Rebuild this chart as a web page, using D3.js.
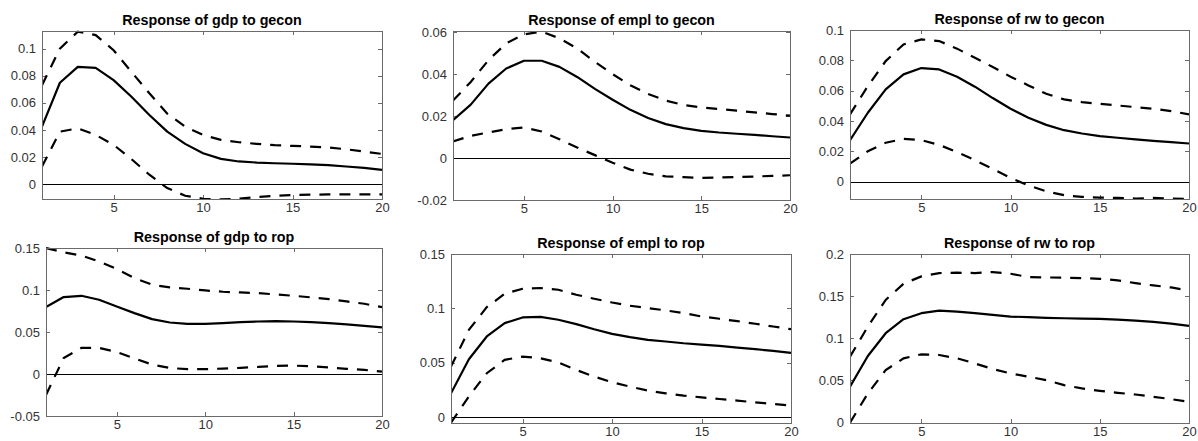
<!DOCTYPE html>
<html>
<head>
<meta charset="utf-8">
<script src="https://cdn.jsdelivr.net/npm/d3@7"></script>
<style>
  html, body { margin: 0; padding: 0; background: #fff; }
  svg { display: block; }
</style>
</head>
<body>
<svg id="chart" width="1198" height="441"></svg>
<script>
// ---------- DATA ----------
const horizons = d3.range(1, 21);
const xTicks = [5, 10, 15, 20];

const titles = [
  "Response of gdp to gecon", "Response of empl to gecon", "Response of rw to gecon",
  "Response of gdp to rop", "Response of empl to rop", "Response of rw to rop"
];

const gdpGeconMid = [0.0424,0.0748,0.0865,0.0858,0.0767,0.0645,0.0510,0.0387,0.0297,0.0228,0.0186,0.0167,0.0159,0.0154,0.0150,0.0145,0.0140,0.0130,0.0120,0.0105];
const gdpGeconUp  = [0.0730,0.1000,0.1125,0.1100,0.0988,0.0828,0.0670,0.0520,0.0424,0.0363,0.0326,0.0309,0.0297,0.0287,0.0282,0.0277,0.0270,0.0257,0.0240,0.0223];
const gdpGeconLo  = [0.0130,0.0387,0.0412,0.0363,0.0290,0.0184,0.0069,-0.0029,-0.0086,-0.0108,-0.0113,-0.0108,-0.0096,-0.0086,-0.0081,-0.0078,-0.0076,-0.0076,-0.0076,-0.0076];

const emplGeconMid = [0.0181,0.0255,0.0355,0.0427,0.0464,0.0464,0.0435,0.0387,0.0330,0.0278,0.0230,0.0191,0.0162,0.0143,0.0130,0.0122,0.0116,0.0111,0.0104,0.0098];
const emplGeconUp  = [0.0274,0.0363,0.0467,0.0547,0.0590,0.0603,0.0571,0.0523,0.0459,0.0400,0.0347,0.0306,0.0274,0.0253,0.0242,0.0234,0.0226,0.0218,0.0210,0.0202];
const emplGeconLo  = [0.0079,0.0106,0.0122,0.0138,0.0146,0.0127,0.0090,0.0050,0.0014,-0.0022,-0.0055,-0.0075,-0.0087,-0.0091,-0.0095,-0.0093,-0.0090,-0.0088,-0.0085,-0.0082];

const rwGeconMid = [0.0273,0.0454,0.0608,0.0707,0.0749,0.0740,0.0692,0.0626,0.0551,0.0480,0.0421,0.0374,0.0339,0.0317,0.0300,0.0289,0.0278,0.0269,0.0260,0.0251];
const rwGeconUp  = [0.0443,0.0630,0.0795,0.0905,0.0938,0.0927,0.0877,0.0817,0.0756,0.0692,0.0634,0.0579,0.0542,0.0524,0.0513,0.0502,0.0491,0.0480,0.0465,0.0443];
const rwGeconLo  = [0.0119,0.0200,0.0256,0.0282,0.0273,0.0242,0.0194,0.0141,0.0084,0.0024,-0.0026,-0.0064,-0.0090,-0.0101,-0.0106,-0.0108,-0.0112,-0.0108,-0.0112,-0.0115];

const gdpRopMid = [0.0796,0.0916,0.0931,0.0884,0.0804,0.0725,0.0653,0.0613,0.0597,0.0597,0.0605,0.0617,0.0625,0.0629,0.0625,0.0617,0.0605,0.0590,0.0574,0.0554];
const gdpRopUp  = [0.1500,0.1448,0.1409,0.1341,0.1250,0.1142,0.1063,0.1031,0.1015,0.0995,0.0979,0.0971,0.0963,0.0947,0.0931,0.0912,0.0892,0.0864,0.0836,0.0796];
const gdpRopLo  = [-0.0249,0.0190,0.0310,0.0310,0.0262,0.0185,0.0112,0.0072,0.0057,0.0057,0.0065,0.0073,0.0084,0.0096,0.0100,0.0092,0.0077,0.0061,0.0049,0.0029];

const emplRopMid = [0.0218,0.0532,0.0741,0.0864,0.0916,0.0922,0.0895,0.0855,0.0808,0.0765,0.0735,0.0710,0.0695,0.0679,0.0667,0.0655,0.0639,0.0624,0.0609,0.0590];
const emplRopUp  = [0.0464,0.0802,0.1011,0.1134,0.1180,0.1187,0.1171,0.1125,0.1088,0.1054,0.1024,0.1002,0.0981,0.0956,0.0925,0.0904,0.0882,0.0858,0.0833,0.0808];
const emplRopLo  = [-0.0052,0.0190,0.0403,0.0526,0.0556,0.0541,0.0501,0.0433,0.0372,0.0320,0.0280,0.0243,0.0218,0.0197,0.0181,0.0166,0.0151,0.0135,0.0120,0.0105];

const rwRopMid = [0.0425,0.0790,0.1060,0.1226,0.1298,0.1329,0.1317,0.1298,0.1278,0.1258,0.1250,0.1242,0.1238,0.1234,0.1230,0.1222,0.1210,0.1194,0.1175,0.1147];
const rwRopUp  = [0.0782,0.1139,0.1456,0.1647,0.1734,0.1774,0.1778,0.1774,0.1786,0.1766,0.1726,0.1722,0.1718,0.1714,0.1706,0.1687,0.1655,0.1627,0.1603,0.1567];
const rwRopLo  = [0.0000,0.0345,0.0623,0.0762,0.0810,0.0802,0.0762,0.0702,0.0635,0.0583,0.0544,0.0504,0.0444,0.0405,0.0377,0.0353,0.0333,0.0306,0.0278,0.0246];

const yDomains = [
  [-0.011, 0.113], [-0.02, 0.0606], [-0.0115, 0.1],
  [-0.05, 0.15], [-0.0055, 0.15], [-0.0005, 0.2]
];
const yTicks = [
  [0, 0.02, 0.04, 0.06, 0.08, 0.1],
  [-0.02, 0, 0.02, 0.04, 0.06],
  [0, 0.02, 0.04, 0.06, 0.08, 0.1],
  [-0.05, 0, 0.05, 0.1, 0.15],
  [0, 0.05, 0.1, 0.15],
  [0, 0.05, 0.1, 0.15, 0.2]
];

const series = [
  [gdpGeconMid, gdpGeconUp, gdpGeconLo],
  [emplGeconMid, emplGeconUp, emplGeconLo],
  [rwGeconMid, rwGeconUp, rwGeconLo],
  [gdpRopMid, gdpRopUp, gdpRopLo],
  [emplRopMid, emplRopUp, emplRopLo],
  [rwRopMid, rwRopUp, rwRopLo]
];

// ---------- LAYOUT (pixel boxes of each axes) ----------
const boxes = [
  {l: 42,  r: 382,  t: 31,  b: 199},
  {l: 453, r: 790,  t: 31,  b: 200},
  {l: 850, r: 1189, t: 30,  b: 199},
  {l: 46,  r: 382,  t: 248, b: 416},
  {l: 451, r: 791,  t: 254, b: 423},
  {l: 850, r: 1189, t: 254, b: 423}
];

const svg = d3.select("#chart");
const FONT = "'Liberation Sans', Arial, Helvetica, sans-serif";
const fmt = v => String(+v.toFixed(4));

boxes.forEach((bx, i) => {
  const x = d3.scaleLinear().domain([1, 20]).range([bx.l, bx.r]);
  const y = d3.scaleLinear().domain(yDomains[i]).range([bx.b, bx.t]);
  const g = svg.append("g");

  const clipId = "clip" + i;
  svg.append("clipPath").attr("id", clipId)
    .append("rect").attr("x", bx.l).attr("y", bx.t - 1)
    .attr("width", bx.r - bx.l + 1).attr("height", bx.b - bx.t + 2);

  const tickLen = 4;
  const yAx = d3.axisLeft(y).tickValues(yTicks[i]).tickFormat(fmt).tickSizeInner(-tickLen).tickSizeOuter(0).tickPadding(6);
  const xAx = d3.axisBottom(x).tickValues(xTicks).tickFormat(d3.format("d")).tickSizeInner(-tickLen).tickSizeOuter(0).tickPadding(4);
  const yAxR = d3.axisRight(y).tickValues(yTicks[i]).tickFormat("").tickSizeInner(-tickLen).tickSizeOuter(0);
  const xAxT = d3.axisTop(x).tickValues(xTicks).tickFormat("").tickSizeInner(-tickLen).tickSizeOuter(0);

  const styleAxis = sel => {
    sel.select(".domain").remove();
    sel.selectAll(".tick line").attr("stroke", "#6a6a6a").attr("shape-rendering", "crispEdges");
    sel.selectAll(".tick text").attr("fill", "#333").style("font-family", FONT).style("font-size", "13px");
  };

  g.append("g").attr("transform", `translate(${bx.l},0)`).call(yAx).call(styleAxis);
  g.append("g").attr("transform", `translate(0,${bx.b})`).call(xAx).call(styleAxis);
  g.append("g").attr("transform", `translate(${bx.r},0)`).call(yAxR).call(styleAxis);
  g.append("g").attr("transform", `translate(0,${bx.t})`).call(xAxT).call(styleAxis);

  // zero line
  g.append("line")
    .attr("x1", bx.l).attr("x2", bx.r)
    .attr("y1", Math.round(y(0)) + 0.5).attr("y2", Math.round(y(0)) + 0.5)
    .attr("stroke", "#000").attr("stroke-width", 1);

  const line = d3.line().x((d, k) => x(horizons[k])).y(d => y(d));
  const [mid, up, lo] = series[i];
  const lines = g.append("g").attr("clip-path", `url(#${clipId})`);
  lines.append("path").datum(mid).attr("d", line)
    .attr("fill", "none").attr("stroke", "#000").attr("stroke-width", 2.2).attr("stroke-linejoin", "round");
  [up, lo].forEach(s => {
    lines.append("path").datum(s).attr("d", line)
      .attr("fill", "none").attr("stroke", "#000").attr("stroke-width", 2.2)
      .attr("stroke-dasharray", "11,9");
  });

  // box
  g.append("rect")
    .attr("x", bx.l + 0.5).attr("y", bx.t + 0.5)
    .attr("width", bx.r - bx.l).attr("height", bx.b - bx.t)
    .attr("fill", "none").attr("stroke", "#6a6a6a").attr("stroke-width", 1)
    .attr("shape-rendering", "crispEdges");

  // title
  g.append("text")
    .attr("x", (bx.l + bx.r) / 2).attr("y", bx.t - 6)
    .attr("text-anchor", "middle")
    .style("font-family", FONT).style("font-size", "14.3px").style("font-weight", "bold")
    .attr("fill", "#000")
    .text(titles[i]);
});
</script>
</body>
</html>
